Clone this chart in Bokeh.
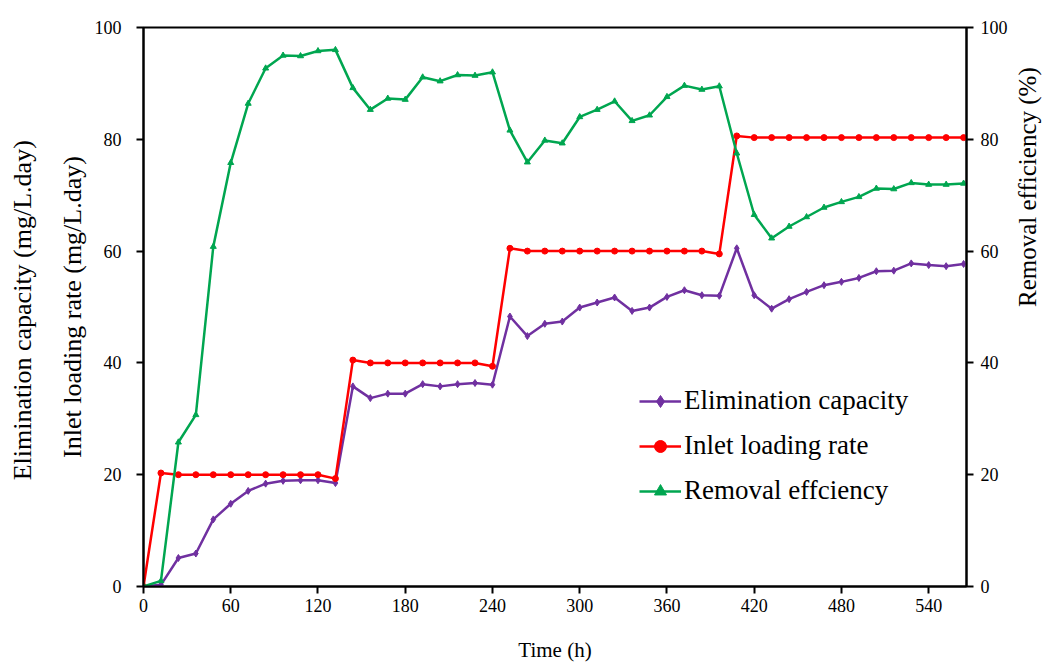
import math
from bokeh.plotting import figure
from bokeh.models import LinearAxis, Range1d, FixedTicker, Legend, LegendItem
from bokeh.embed import file_html
from bokeh.resources import INLINE

time_h = [0, 12, 24, 36, 48, 60, 72, 84, 96, 108, 120, 132, 144, 156, 168, 180,
          192, 204, 216, 228, 240, 252, 264, 276, 288, 300, 312, 324, 336, 348,
          360, 372, 384, 396, 408, 420, 432, 444, 456, 468, 480, 492, 504, 516,
          528, 540, 552, 564]

elimination_capacity = [0, 0.3, 5.1, 5.9, 12.0, 14.8, 17.1, 18.4, 18.9, 19.0, 19.0, 18.5,
                        35.8, 33.7, 34.5, 34.5, 36.2, 35.8, 36.2, 36.4, 36.1, 48.3, 44.8,
                        47.0, 47.4, 49.9, 50.8, 51.7, 49.3, 49.9, 51.8, 53.0, 52.1, 52.0,
                        60.5, 52.1, 49.7, 51.4, 52.7, 53.9, 54.5, 55.2, 56.4, 56.5, 57.8,
                        57.5, 57.3, 57.7]

inlet_loading_rate = [0, 20.3, 20.0, 20.0, 20.0, 20.0, 20.0, 20.0, 20.0, 20.0, 20.0, 19.3,
                      40.5, 40.0, 40.0, 40.0, 40.0, 40.0, 40.0, 40.0, 39.4, 60.5, 60.0,
                      60.0, 60.0, 60.0, 60.0, 60.0, 60.0, 60.0, 60.0, 60.0, 60.0, 59.5,
                      80.6, 80.3, 80.3, 80.3, 80.3, 80.3, 80.3, 80.3, 80.3, 80.3, 80.3,
                      80.3, 80.3, 80.3]

removal_efficiency = [0, 1.0, 25.8, 30.7, 60.8, 75.8, 86.4, 92.7, 95.0, 94.9, 95.8, 96.0,
                      89.2, 85.3, 87.3, 87.1, 91.1, 90.4, 91.5, 91.4, 92.0, 81.6, 75.9,
                      79.8, 79.3, 84.0, 85.3, 86.8, 83.3, 84.3, 87.6, 89.6, 88.9, 89.5,
                      77.5, 66.5, 62.3, 64.4, 66.1, 67.8, 68.8, 69.7, 71.2, 71.1, 72.2,
                      71.9, 71.9, 72.1]

x_ticks = [0, 60, 120, 180, 240, 300, 360, 420, 480, 540]
y_ticks = [0, 20, 40, 60, 80, 100]

X_END = 566
Y_END = 100

FONT = "Liberation Serif"
PURPLE = "#7030A0"
RED = "#FF0000"
GREEN = "#00A650"

p = figure(width=1057, height=664, output_backend="svg", toolbar_location=None,
           x_range=Range1d(0, X_END), y_range=Range1d(0, Y_END),
           min_border_left=143, min_border_right=91, min_border_top=27,
           min_border_bottom=77)
p.extra_y_ranges = {"re": Range1d(0, Y_END)}
p.xgrid.visible = False
p.ygrid.visible = False
p.outline_line_color = "black"
p.outline_line_width = 2
p.background_fill_color = "white"
p.border_fill_color = "white"


def style_axis(ax, ticks, label_size="18px"):
    ax.ticker = FixedTicker(ticks=ticks)
    ax.axis_line_width = 2
    ax.axis_line_color = "black"
    ax.major_tick_line_width = 2
    ax.major_tick_line_color = "black"
    ax.major_tick_out = 7
    ax.major_tick_in = 0
    ax.minor_tick_out = 0
    ax.minor_tick_in = 0
    ax.major_label_text_font = FONT
    ax.major_label_text_font_size = label_size
    ax.major_label_text_color = "black"
    ax.axis_label_text_font = FONT
    ax.axis_label_text_font_style = "normal"
    ax.axis_label_text_color = "black"


# bottom axis
xa = p.xaxis[0]
style_axis(xa, x_ticks)
xa.axis_label = "Time (h)"
xa.axis_label_text_font_size = "21px"
xa.major_label_standoff = 5
xa.axis_label_standoff = 23

# left main axis
ya = p.yaxis[0]
style_axis(ya, y_ticks)
ya.axis_label = "Inlet loading rate (mg/L.day)"
ya.axis_label_text_font_size = "26px"
ya.major_label_standoff = 15
ya.axis_label_standoff = 5

# left outer axis (second title line)
ya2 = LinearAxis(ticker=FixedTicker(ticks=[]))
ya2.axis_line_color = None
ya2.major_tick_out = 0
ya2.major_tick_in = 0
ya2.minor_tick_out = 0
ya2.minor_tick_in = 0
ya2.major_label_standoff = 0
ya2.axis_label = "Elimination  capacity (mg/L.day)"
ya2.axis_label_text_font = FONT
ya2.axis_label_text_font_style = "normal"
ya2.axis_label_text_font_size = "26px"
ya2.axis_label_text_color = "black"
ya2.axis_label_standoff = 18
p.add_layout(ya2, "left")

# right axis
ra = LinearAxis(y_range_name="re")
style_axis(ra, y_ticks)
ra.major_label_standoff = 7
ra.axis_label = "Removal efficiency (%)"
ra.axis_label_text_font_size = "25px"
ra.axis_label_orientation = math.pi / 2
ra.axis_label_standoff = 17
p.add_layout(ra, "right")

l1 = p.line(time_h, elimination_capacity, line_color=PURPLE, line_width=2.5)
m1 = p.scatter(time_h, elimination_capacity, marker="diamond", size=7,
               fill_color=PURPLE, line_color=PURPLE)
l2 = p.line(time_h, inlet_loading_rate, line_color=RED, line_width=2.5)
m2 = p.scatter(time_h, inlet_loading_rate, marker="circle", size=6,
               fill_color=RED, line_color=RED)
l3 = p.line(time_h, removal_efficiency, line_color=GREEN, line_width=2.5,
            y_range_name="re")
m3 = p.scatter(time_h, removal_efficiency, marker="triangle", size=6,
               fill_color=GREEN, line_color=GREEN, y_range_name="re")

legend = Legend(items=[
    LegendItem(label="Elimination capacity", renderers=[l1, m1]),
    LegendItem(label="Inlet loading rate", renderers=[l2, m2]),
    LegendItem(label="Removal effciency", renderers=[l3, m3]),
])
legend.location = (496, 80)
legend.label_text_font = FONT
legend.label_text_font_size = "27px"
legend.label_text_color = "black"
legend.glyph_width = 42
legend.glyph_height = 30
legend.label_height = 30
legend.spacing = 14
legend.label_standoff = 3
legend.padding = 0
legend.margin = 0
legend.border_line_color = None
legend.background_fill_alpha = 0
p.add_layout(legend, "center")

open("out.html", "w").write(file_html(p, INLINE))
